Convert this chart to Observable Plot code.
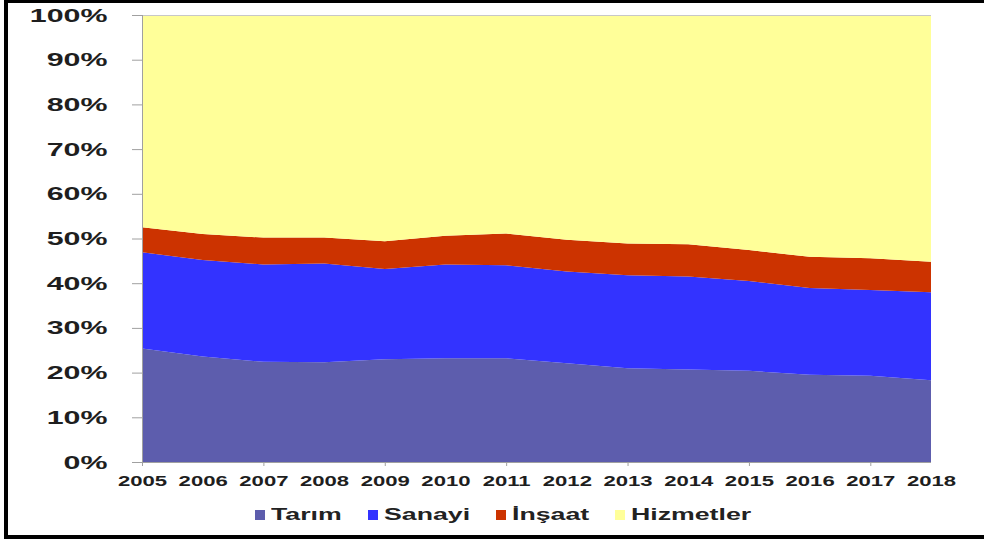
<!DOCTYPE html>
<html>
<head>
<meta charset="utf-8">
<script src="https://cdn.jsdelivr.net/npm/d3@7"></script>
<script src="https://cdn.jsdelivr.net/npm/@observablehq/plot@0.6"></script>
<style>
  body { margin: 0; background: #fff; }
  #frame { position: relative; width: 984px; height: 542px; overflow: hidden; font-family: "Liberation Sans", Arial, sans-serif; background: #fff; }
  #border { position: absolute; left: 4px; top: 0; width: 980px; height: 539px; box-sizing: border-box;
            border-top: 3px solid #000; border-left: 4px solid #000; border-bottom: 4px solid #000; pointer-events: none; }
  #chart { position: absolute; left: 0; top: 0; }
  #legend { position: absolute; top: 505px; left: 255px; display: flex; align-items: center;
            font-weight: bold; font-size: 17px; color: #222; white-space: nowrap; }
  .item { display: flex; align-items: center; }
  .sw { width: 10px; height: 10px; margin-right: 6px; flex: none; }
  .lab { display: inline-block; transform-origin: left center; }
</style>
</head>
<body>
<div id="frame">
  <div id="chart"></div>
  <div id="legend"></div>
  <div id="border"></div>
</div>
<script>
// ---- data (percent shares of employment) ----
const years = [2005, 2006, 2007, 2008, 2009, 2010, 2011, 2012, 2013, 2014, 2015, 2016, 2017, 2018];
const sectors = ["Tarım", "Sanayi", "İnşaat", "Hizmetler"];
const colors = ["#5D5DAD", "#3333FF", "#CC3300", "#FFFF99"];
const tarim     = [25.4, 23.6, 22.4, 22.3, 23.0, 23.2, 23.2, 22.1, 21.0, 20.7, 20.4, 19.5, 19.3, 18.3];
const sanayi    = [21.5, 21.6, 21.8, 22.1, 20.2, 21.0, 20.8, 20.5, 20.8, 20.8, 20.1, 19.4, 19.2, 19.7];
const insaat    = [5.6, 5.8, 6.0, 5.8, 6.2, 6.4, 7.1, 7.1, 7.1, 7.2, 6.9, 7.0, 7.1, 6.8];
const hizmetler = [47.5, 49.0, 49.8, 49.8, 50.6, 49.4, 48.9, 50.3, 51.1, 51.3, 52.6, 54.1, 54.4, 55.2];
const yTicks = [0, 10, 20, 30, 40, 50, 60, 70, 80, 90, 100];
const xTickMarks = [2005, 2007, 2009, 2011, 2013, 2015, 2017];

const seriesValues = [tarim, sanayi, insaat, hizmetler];
const data = [];
sectors.forEach((s, k) => years.forEach((y, i) => data.push({year: y, sector: s, value: seriesValues[k][i]})));

const grey = "#a0a0a0";
const svg = Plot.plot({
  width: 984,
  height: 500,
  marginLeft: 142,
  marginRight: 53,
  marginTop: 15,
  marginBottom: 38,
  style: {fontFamily: '"Liberation Sans", Arial, sans-serif', fontWeight: "bold", background: "transparent", overflow: "visible"},
  x: {type: "linear", domain: [2005, 2018]},
  y: {domain: [0, 100]},
  color: {domain: sectors, range: colors},
  marks: [
    Plot.areaY(data, {x: "year", y: "value", fill: "sector", z: "sector", order: sectors}),
    Plot.ruleY([100], {stroke: "#c8c8c8"}),
    Plot.ruleX([2005], {stroke: grey}),
    Plot.ruleY([0], {stroke: grey}),
    Plot.axisY(yTicks, {tickSize: 10, tickPadding: 25, tickFormat: d => d + "%", stroke: grey, fill: "#1e1e1e", fontSize: 19, label: null}),
    Plot.axisX(xTickMarks, {tickSize: 4, tickFormat: () => "", stroke: grey, label: null}),
    Plot.axisX(years, {tickSize: 0, tickPadding: 14, tickFormat: d => String(d), fill: "#1e1e1e", fontSize: 14, label: null})
  ]
});
document.getElementById("chart").appendChild(svg);

function stretch(label, s) {
  svg.querySelectorAll(`g[aria-label="${label}"] text`).forEach(t => {
    const x = +t.getAttribute("x") || 0, y = +t.getAttribute("y") || 0;
    const tr = t.getAttribute("transform") || "";
    t.setAttribute("transform", `${tr} translate(${x},${y}) scale(${s},1) translate(${-x},${-y})`);
  });
}
stretch("y-axis tick label", 1.6);
stretch("x-axis tick label", 1.58);

// legend
const legend = document.getElementById("legend");
const S = 1.57;
sectors.forEach((s, i) => {
  const item = document.createElement("div");
  item.className = "item";
  const sw = document.createElement("span");
  sw.className = "sw";
  sw.style.background = colors[i];
  const lab = document.createElement("span");
  lab.className = "lab";
  lab.textContent = s;
  item.appendChild(sw);
  item.appendChild(lab);
  legend.appendChild(item);
  const w = lab.getBoundingClientRect().width;
  lab.style.transform = `scaleX(${S})`;
  lab.style.marginRight = (w * (S - 1) + (i < sectors.length - 1 ? 26 : 0)) + "px";
});
</script>
</body>
</html>
